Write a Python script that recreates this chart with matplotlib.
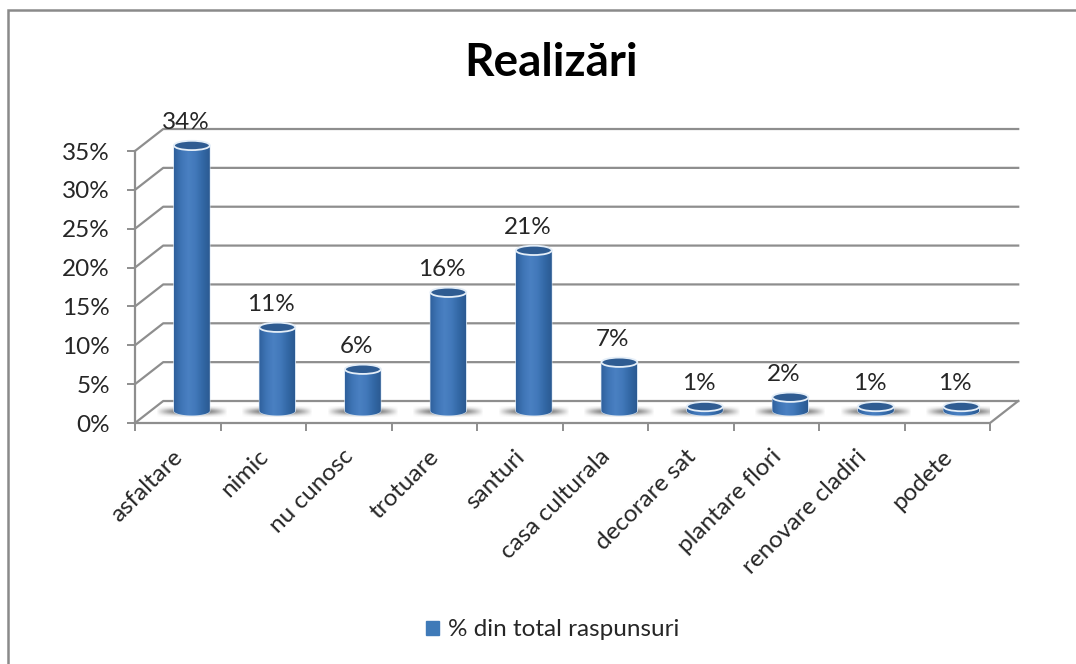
import matplotlib
matplotlib.use("Agg")
import matplotlib.pyplot as plt
import numpy as np
from matplotlib.patches import Ellipse, PathPatch, Patch, Rectangle
from matplotlib.path import Path
from matplotlib.transforms import ScaledTranslation
from matplotlib.colors import LinearSegmentedColormap

categories = ["asfaltare", "nimic", "nu cunosc", "trotuare", "santuri", "casa culturala",
              "decorare sat", "plantare flori", "renovare cladiri", "podete"]
values = [34.4, 11.0, 5.6, 15.5, 20.9, 6.5, 0.8, 2.0, 0.8, 0.8]
value_labels = ["34%", "11%", "6%", "16%", "21%", "7%", "1%", "2%", "1%", "1%"]
y_ticks = [0, 5, 10, 15, 20, 25, 30, 35]
title = "Realizări"
series_name = "% din total raspunsuri"

plt.rcParams["font.family"] = ["Lato", "DejaVu Sans"]
GREY = "#8e8e8e"
TEXT = "#262626"

W, H = 1076, 664
fig = plt.figure(figsize=(W / 100, H / 100), dpi=100)
ax = fig.add_axes([135 / W, 1 - 423 / H, 855 / W, 272 / H])
ax.set_xlim(-0.5, 9.5)
ax.set_ylim(0, 35)
ax.patch.set_visible(False)
for s in ["top", "right", "bottom", "left"]:
    ax.spines[s].set_visible(False)

# chart frame, runs off the right and bottom of the picture
fig.add_artist(Rectangle((7.5 / W, -10 / H), 1090 / W, 664 / H, transform=fig.transFigure,
                         fc="white", ec="#8a8a8a", lw=1.8, zorder=-5))

# depth of the fake 3d box, in data units
dx = 0.33
dy = 2.83

for t in y_ticks:
    ax.plot([-0.5, -0.5 + dx, 9.5 + dx], [t, t + dy, t + dy], color=GREY, lw=1.6, clip_on=False, zorder=1)
ax.plot([-0.5, 9.5, 9.5 + dx], [0, 0, dy], color=GREY, lw=1.6, clip_on=False, zorder=1)
ax.plot([-0.5, -0.5], [0, 35], color=GREY, lw=1.6, clip_on=False, zorder=1)

ax.set_yticks(y_ticks)
ax.set_yticklabels([str(t) + "%" for t in y_ticks], fontsize=17.5, color=TEXT)
ax.tick_params(axis="y", length=6, width=1.4, color=GREY, pad=12)

ax.set_xticks(np.arange(10))
ax.set_xticklabels(categories, rotation=45, ha="right", va="top", rotation_mode="anchor",
                   fontsize=17.5, color=TEXT)
ax.tick_params(axis="x", which="major", length=0, pad=16.5)
ax.set_xticks(np.arange(-0.5, 10), minor=True)
ax.tick_params(axis="x", which="minor", length=6, width=1.4, color=GREY)
shift = ScaledTranslation(-6 / 100, 0, fig.dpi_scale_trans)
for lab in ax.get_xticklabels():
    lab.set_transform(lab.get_transform() + shift)

body_cmap = LinearSegmentedColormap.from_list("body", ["#2f609c", "#3f75b6", "#4a80c2", "#4279ba", "#3368a6", "#2b5a92"])
grad = np.linspace(0, 1, 64).reshape(1, -1)
half = 0.21
ry = 0.6

# soft floor shadow under each bar
sx = np.clip(1 - np.abs(np.linspace(-1, 1, 64)) ** 2, 0, 1)
sy = np.exp(-np.linspace(-1.6, 1.6, 16) ** 2)
shadow = np.zeros((16, 64, 4))
shadow[..., :3] = 0.38
shadow[..., 3] = np.outer(sy, sx)

for i, v in enumerate(values):
    cx = i + dx / 2
    base = dy / 2 + 0.15
    top = base + v - 0.25

    ax.imshow(shadow, extent=[cx - 0.42, cx + 0.42, base - 0.8, base + 0.6], aspect="auto",
              interpolation="bilinear", zorder=2)

    # cylinder side
    t = np.linspace(np.pi, 2 * np.pi, 30)
    xs = cx + half * np.cos(t)
    ys = base + ry * np.sin(t)
    verts = [(cx - half, top)] + list(zip(xs, ys)) + [(cx + half, top), (cx - half, top)]
    codes = [Path.MOVETO] + [Path.LINETO] * (len(verts) - 1)
    body = PathPatch(Path(verts, codes), fc="none", ec="#cfe0f2", lw=0.8, zorder=3, clip_on=False)
    ax.add_patch(body)
    im = ax.imshow(grad, extent=[cx - half, cx + half, base - ry, top], cmap=body_cmap, aspect="auto", zorder=3)
    im.set_clip_box(fig.bbox)
    im.set_clip_path(body)

    # top cap
    ax.add_patch(Ellipse((cx, top), 2 * half, 2 * ry, fc="#2f5c92", ec="#e4eef8", lw=1.3, zorder=4, clip_on=False))

    ax.annotate(value_labels[i], (i, top), xytext=(5.5, 9), textcoords="offset points", ha="center",
                va="bottom", fontsize=17.5, color=TEXT, zorder=5, annotation_clip=False)

ax.set_xlim(-0.5, 9.5)
ax.set_ylim(0, 35)

fig.text(551 / W, 1 - 63 / H, title, ha="center", va="center", fontsize=33, fontweight="bold", color="black")

ax.legend(handles=[Patch(color="#3f7ab8", label=series_name)], loc="center", frameon=False,
          bbox_to_anchor=(553 / W, 1 - 630 / H), bbox_transform=fig.transFigure, fontsize=17.5,
          handlelength=0.5, handleheight=0.5, handletextpad=0.4, labelcolor=TEXT)

fig.savefig("out.png", dpi=100, facecolor="white")
